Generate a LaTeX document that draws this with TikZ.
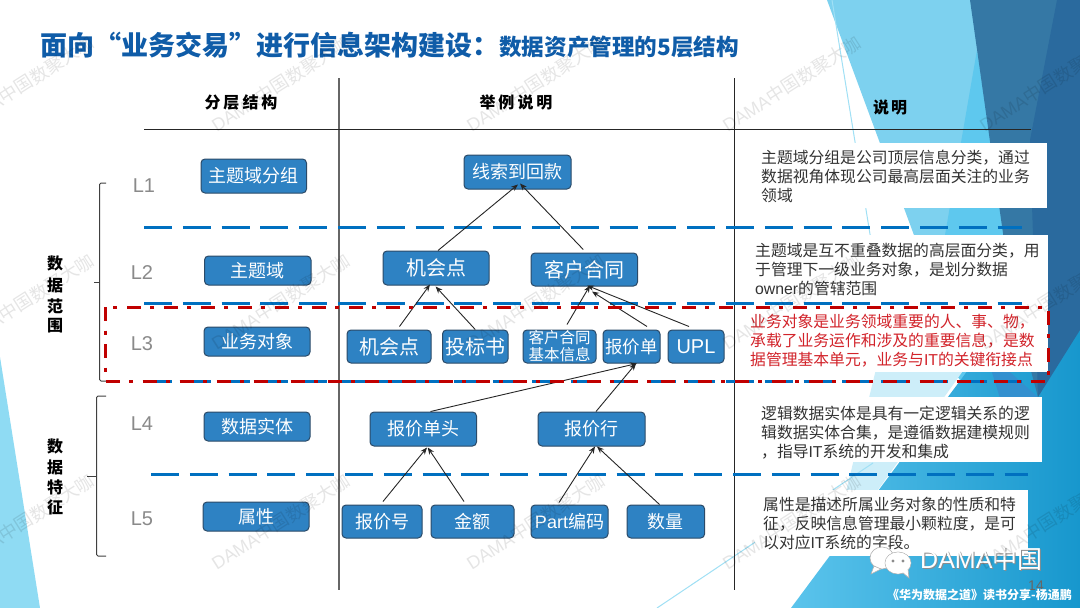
\documentclass[tikz,border=0pt]{standalone}
\usepackage{fontspec}
\setmainfont{Noto Sans CJK SC}
\newfontfamily\lat{Liberation Sans}
\usetikzlibrary{arrows.meta}
\newcommand{\fsz}[1]{\fontsize{#1}{#1}\selectfont}
\definecolor{boxfill}{HTML}{2E82C3}
\definecolor{boxline}{HTML}{2B4A68}
\definecolor{titleblue}{HTML}{0F5CA8}
\definecolor{dashblue}{HTML}{0070C0}
\definecolor{redline}{HTML}{C00000}
\definecolor{desc}{HTML}{333333}
\definecolor{redtext}{HTML}{D2232A}
\definecolor{lvl}{HTML}{8A8A8A}
\definecolor{lowL}{HTML}{5BC4EC}
\definecolor{lowR}{HTML}{1797CD}
\tikzset{
  blk/.style={rounded corners=4pt,draw=boxline,line width=1pt,fill=boxfill,text=white,inner sep=0pt,align=center},
  bluedash/.style={draw=dashblue,line width=3pt,dash pattern=on 28pt off 10.8pt},
  reddash/.style={draw=redline,line width=3pt,dash pattern=on 14pt off 9.5pt on 4pt off 9.5pt},
  link/.style={draw=black!85,line width=.9pt,-{Stealth[length=7pt,width=5.5pt]}},
  lvltext/.style={text=lvl,font=\lat\fsz{20}},
  head/.style={font=\bfseries\fsz{16},text=black},
  vtext/.style={font=\bfseries\fsz{16},text=black,align=center,inner sep=0pt},
  desctext/.style={anchor=north west,inner sep=0pt,align=left,font=\fontsize{15.8}{19}\selectfont,text=desc},
  wm/.style={anchor=west,rotate=32.5,text=black,opacity=.1,font=\fsz{18},inner sep=0pt},
  brace/.style={draw=black!75,line width=1pt,rounded corners=1.5pt},
}
% name, x1, y1, x2, y2, font size, text
\newcommand{\blk}[7]{\node[blk,minimum width={#4pt-#2pt},minimum height={#5pt-#3pt},font=\fsz{#6}] (#1) at ({(#2+#4)/2},{(#3+#5)/2}) {#7};}
\newcommand{\conn}[6]{\draw[link] ([xshift=#2pt,yshift=#3pt]#1.north) -- ([xshift=#5pt,yshift=#6pt]#4.south);}
\begin{document}
\begin{tikzpicture}[x=1pt,y=-1pt]
\useasboundingbox (0,0) rectangle (1080,608);
% background shapes
\fill[white] (0,0) rectangle (1080,608);
\fill[color={rgb,255:red,143;green,219;blue,243}] (0,357) -- (40,608) -- (0,608) -- cycle;
\fill[color={rgb,255:red,125;green,209;blue,239}] (827,0) -- (980,0) -- (1010,400) -- (975,400) -- cycle;
\fill[color={rgb,255:red,94;green,200;blue,238}] (977,50) -- (945,235) -- (930,340) -- (975,400) -- (1030,400) -- cycle;
\fill[color={rgb,255:red,205;green,238;blue,249}] (892,304) -- (830,557) -- (985,340) -- cycle;
\shade[left color=lowL,right color=lowR] (791,608) -- (1000,327) -- (1080,330) -- (1080,608) -- cycle;
\fill[color={rgb,255:red,51;green,144;blue,207}] (985,350) -- (1038,397) -- (1010,430) -- cycle;
\fill[color={rgb,255:red,53;green,120;blue,165}] (970,0) -- (1060,0) -- (1060,340) -- (1038,397) -- (1013,304) -- cycle;
\fill[color={rgb,255:red,42;green,106;blue,158}] (1057,0) -- (1080,0) -- (1080,330) -- (1038,397) -- (1030,140) -- cycle;
\draw[color={rgb,255:red,160;green,224;blue,245},line width=1pt] (832,0) -- (875,265);
\draw[color={rgb,255:red,160;green,224;blue,245},line width=1pt] (657,608) -- (873,463);
% white panels
\fill[white] (755,143) rectangle (1047,208);
\fill[white] (750,235) rectangle (1048,304);
\fill[white] (745,304) rectangle (1048,372);
\fill[white] (755,397) rectangle (1042,462);
\fill[white] (755,490) rectangle (1028,556);
% title
\node[anchor=west,inner sep=0pt,text=titleblue,font=\bfseries\fsz{27}] (title) at (40,45) {面向“业务交易”进行信息架构建设：};
\node[anchor=west,inner sep=0pt,text=titleblue,font=\bfseries\fsz{22.6}] (subtitle) at (499,47) {数据资产管理的5层结构};
% table rules
\draw[color=black!60,line width=1.4pt] (339,78) -- (339,590);
\draw[color=black!85,line width=1pt] (734,78) -- (734,590);
\draw[color=black!85,line width=1pt] (144,129) -- (1031,129);
% headers
\node[head] (h1) at (241,102) {分\hspace{3pt}层\hspace{3pt}结\hspace{3pt}构};
\node[head] (h2) at (516,102) {举\hspace{3pt}例\hspace{3pt}说\hspace{3pt}明};
\node[head] (h3) at (890,107) {说\hspace{2pt}明};
% dashed separators
\draw[bluedash] (144,227) -- (1022,227);
\draw[bluedash] (144,303) -- (1022,303);
\draw[bluedash] (144,381) -- (1022,381);
\draw[bluedash] (151,474) -- (1028,474);
% levels
\node[lvltext] (l1) at (144,186) {L1};
\node[lvltext] (l2) at (142,273) {L2};
\node[lvltext] (l3) at (142,344) {L3};
\node[lvltext] (l4) at (142,424) {L4};
\node[lvltext] (l5) at (142,519) {L5};
% braces
\draw[brace] (106,183) -- (99.5,183) -- (99.5,381) -- (106,381);
\draw[brace] (94,282) -- (99.5,282);
\draw[brace] (106,396) -- (96.5,396) -- (96.5,556) -- (106,556);
\draw[brace] (87,476) -- (96.5,476);
\node[vtext] (v1a) at (55,263) {数};
\node[vtext] (v1b) at (55,285) {据};
\node[vtext] (v1c) at (55,306) {范};
\node[vtext] (v1d) at (55,326) {围};
\node[vtext] (v2a) at (55,446) {数};
\node[vtext] (v2b) at (55,467) {据};
\node[vtext] (v2c) at (55,487) {特};
\node[vtext] (v2d) at (55,507) {征};
% column 1
\blk{a1}{201}{159}{306.5}{193}{18}{主题域分组}
\blk{a2}{204.5}{256}{311}{285}{18}{主题域}
\blk{a3}{204}{327}{310}{356}{18}{业务对象}
\blk{a4}{204}{412}{310}{441}{18}{数据实体}
\blk{a5}{203}{502}{309}{531}{18}{属性}
% column 2
\blk{b1}{464}{155}{571}{189}{18}{线索到回款}
\blk{c1}{383}{251}{489}{285}{20}{机会点}
\blk{c2}{531}{253}{637.5}{286}{20}{客户合同}
\blk{d1}{347}{330}{431}{363}{20}{机会点}
\blk{d2}{442.5}{330}{508}{363}{20}{投标书}
\blk{d3}{523}{330}{596}{363}{15.5}{客户合同\\[1.5pt]基本信息}
\blk{d4}{603}{330}{660}{363}{17.5}{报价单}
\blk{d5}{668}{330}{724}{363}{20}{\lat UPL}
\blk{e1}{370}{412}{476.5}{446}{18}{报价单头}
\blk{e2}{538}{412}{645}{446}{18}{报价行}
\blk{f1}{342}{505}{422}{538}{18}{报价号}
\blk{f2}{431}{505}{514}{538}{18}{金额}
\blk{f3}{531}{505}{608}{538}{18}{{\lat Part}编码}
\blk{f4}{627}{505}{704.6}{538}{18}{数量}
% connectors
\conn{c1}{2}{0}{b1}{0.5}{5}
\conn{c2}{-1}{3}{b1}{2.5}{6}
\conn{d1}{10.5}{3}{c1}{-6}{1}
\conn{d2}{0}{0}{c1}{-0.4}{-1}
\conn{d3}{7.5}{5}{c2}{5.75}{1}
\conn{d4}{15.5}{3}{c2}{7.75}{-5}
\conn{d5}{-7}{3}{c2}{2.75}{1}
\conn{e1}{7.25}{0}{d4}{5.5}{0}
\conn{e2}{4.5}{0}{d4}{4.5}{0}
\conn{f1}{1}{3}{e1}{3.75}{-1}
\conn{f2}{-8.5}{3}{e1}{4.5}{-1}
\conn{f3}{-10.5}{2}{e2}{3.5}{0}
\conn{f4}{-6.3}{0}{e2}{5.5}{0}
% descriptions
\node[desctext] (t1) at (761,150) {主题域分组是公司顶层信息分类，通过\\数据视角体现公司最高层面关注的业务\\领域};
\node[desctext] (t2) at (755,243) {主题域是互不重叠数据的高层面分类，用\\于管理下一级业务对象，是划分数据\\{\lat owner}的管辖范围};
\node[desctext,text=redtext] (t3) at (750,314) {业务对象是业务领域重要的人、事、物，\\承载了业务运作和涉及的重要信息，是数\\据管理基本单元，业务与{\lat IT}的关键衔接点};
\node[desctext] (t4) at (761,405.5) {逻辑数据实体是具有一定逻辑关系的逻\\辑数据实体合集，是遵循数据建模规则\\，指导{\lat IT}系统的开发和集成};
\node[desctext] (t5) at (763,497) {属性是描述所属业务对象的性质和特\\征，反映信息管理最小颗粒度，是可\\以对应{\lat IT}系统的字段。};
% red frame
\draw[reddash] (105.5,307) rectangle (1048,381);
% logo
\fill[white,draw=black!30,line width=.6pt] (882,558) ellipse (12 and 11);
\fill[white,draw=black!30,line width=.6pt] (874,566) -- (871,574) -- (881,569) -- cycle;
\fill[white,draw=black!30,line width=.6pt] (898,563) ellipse (13 and 11);
\fill[white,draw=black!30,line width=.6pt] (902,572) -- (909,578) -- (908,569) -- cycle;
\fill[white] (898,563) ellipse (12.5 and 10.5);
\fill[black!45] (893,561) circle (1.6);
\fill[black!45] (903,561) circle (1.6);
\node[anchor=west,inner sep=0pt,text=black!45,font=\fsz{25}] (logos) at (921,560) {{\lat DAMA}中国};
\node[anchor=west,inner sep=0pt,text=white,font=\fsz{25}] (logo) at (920,559) {{\lat DAMA}中国};
\node[inner sep=0pt,text=black!60,font=\lat\fsz{14}] (pageno) at (1036,586) {14};
\node[anchor=west,inner sep=0pt,text=white,font=\bfseries\fsz{12}] (foot) at (887,595) {《华为数据之道》读书分享-杨通鹏};
% watermark
\foreach \r/\yy in {1/127,2/345,3/565}{
  \foreach \c/\xx in {1/-43,2/213,3/468,4/724,5/981}{
    \node[wm] (wm\r\c) at (\xx,\yy) {{\lat DAMA}中国数聚大咖};
  }
}
\end{tikzpicture}
\end{document}
